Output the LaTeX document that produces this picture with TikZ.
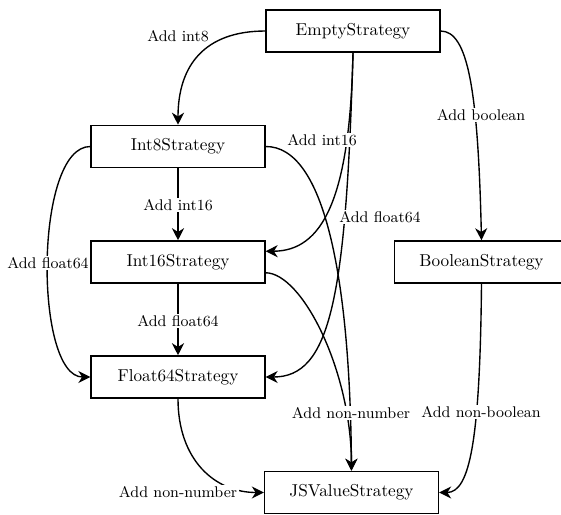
\documentclass[tikz,border=0pt]{standalone}
\usetikzlibrary{arrows.meta}

\begin{document}
\begin{tikzpicture}[x=0.581pt, y=-0.581pt, thick, >={Stealth[length=7pt, width=7pt, inset=2.2pt]},
	strategy/.style={draw, rectangle, minimum width=101pt, minimum height=24.5pt, inner sep=0pt},
	lbl/.style={font=\small, fill=white, inner sep=1pt}]
	\useasboundingbox (0,0) rectangle (561,514);
	% strategies
	\node[strategy] (Empty) at (353,31) {EmptyStrategy};
	\node[strategy] (Int8) at (178,146.5) {Int8Strategy};
	\node[strategy] (Int16) at (178,262) {Int16Strategy};
	\node[strategy] (Float64) at (178,377) {Float64Strategy};
	\node[strategy] (Boolean) at (481.5,262) {BooleanStrategy};
	\node[strategy] (JSValue) at (351.5,492.5) {JSValueStrategy};
	% transitions
	\draw[->] (Empty.west) .. controls (205,31) and (178,65) .. (Int8.north);
	\draw[->] (Empty.south) .. controls (350,200) and (322,251) .. (Int16.7);
	\draw[->] (Empty.south) .. controls (346,300) and (330,377) .. (Float64.east);
	\draw[->] (Empty.east) .. controls (468,31) and (478,90) .. (Boolean.north);
	\draw[->] (Int8.south) -- (Int16.north);
	\draw[->] (Int8.west) .. controls (34,146) and (34,377) .. (Float64.west);
	\draw[->] (Int8.east) .. controls (325,146) and (350,280) .. (JSValue.north);
	\draw[->] (Int16.south) -- (Float64.north);
	\draw[->] (Int16.-7) .. controls (302,273) and (351,370) .. (JSValue.north);
	\draw[->] (Float64.south) .. controls (178,460) and (215,492.5) .. (JSValue.west);
	\draw[->] (Boolean.south) .. controls (480,440) and (470,492.5) .. (JSValue.east);
	% labels
	\node[lbl] (lInt8) at (178,36) {Add int8};
	\node[lbl] (lEmptyInt16) at (322,140) {Add int16};
	\node[lbl] (lEmptyFloat) at (380,217) {Add float64};
	\node[lbl] (lBool) at (481,115) {Add boolean};
	\node[lbl] (lInt16) at (178,205) {Add int16};
	\node[lbl] (lInt8Float) at (48,263) {Add float64};
	\node[lbl] (lInt16Float) at (178,321) {Add float64};
	\node[lbl] (lInt8Any) at (351,413) {Add non-number};
	\node[lbl] (lInt16Any) at (351,413) {Add non-number};
	\node[lbl] (lFloatAny) at (178,492) {Add non-number};
	\node[lbl] (lBoolAny) at (481,412) {Add non-boolean};
\end{tikzpicture}
\end{document}
